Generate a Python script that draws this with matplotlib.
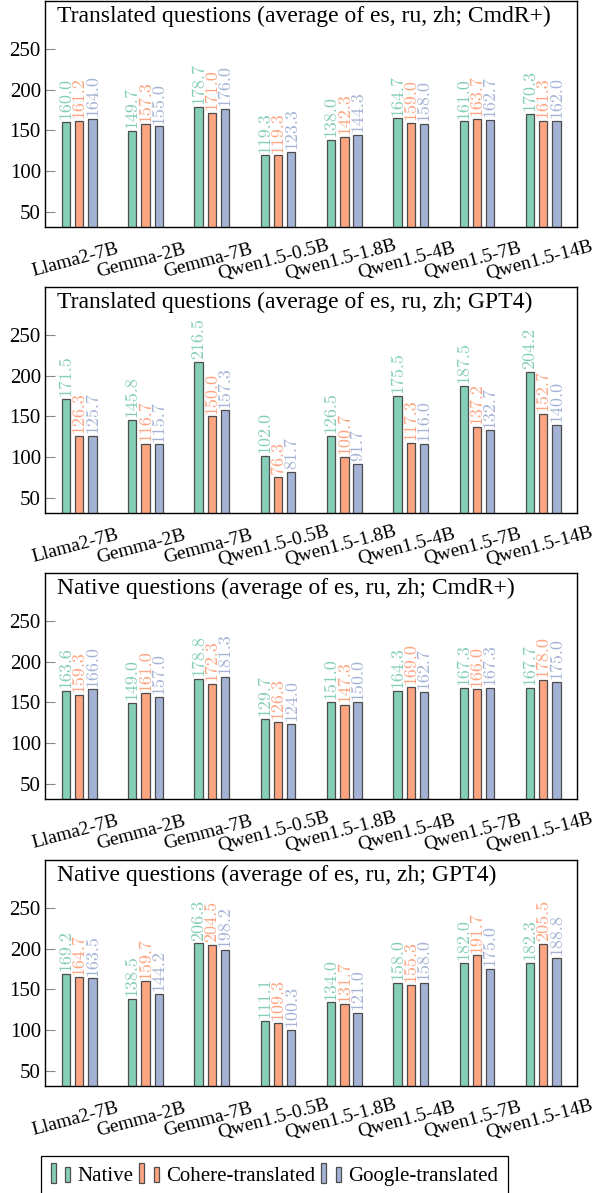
"""Four bar panels: length of answers per model, native vs translated questions."""

import matplotlib

matplotlib.use("Agg")

import matplotlib.pyplot as plt  # noqa: E402
import matplotlib.transforms as mtransforms  # noqa: E402
import numpy as np  # noqa: E402
from matplotlib.legend_handler import HandlerBase  # noqa: E402
from matplotlib.patches import Rectangle  # noqa: E402

models = ["Llama2-7B", "Gemma-2B", "Gemma-7B", "Qwen1.5-0.5B",
          "Qwen1.5-1.8B", "Qwen1.5-4B", "Qwen1.5-7B", "Qwen1.5-14B"]
series = ["Native", "Cohere-translated", "Google-translated"]
titles = [
    "Translated questions (average of es, ru, zh; CmdR+)",
    "Translated questions (average of es, ru, zh; GPT4)",
    "Native questions (average of es, ru, zh; CmdR+)",
    "Native questions (average of es, ru, zh; GPT4)",
]

# translated questions, CmdR+
tr_cmdr_native = [160.0, 149.7, 178.7, 119.3, 138.0, 164.7, 161.0, 170.3]
tr_cmdr_cohere = [161.2, 157.3, 171.0, 119.3, 142.3, 159.0, 163.7, 161.3]
tr_cmdr_google = [164.0, 155.0, 176.0, 123.3, 144.3, 158.0, 162.7, 162.0]
# translated questions, GPT4
tr_gpt4_native = [171.5, 145.8, 216.5, 102.0, 126.5, 175.5, 187.5, 204.2]
tr_gpt4_cohere = [126.3, 116.7, 150.0, 76.3, 100.7, 117.3, 137.2, 152.7]
tr_gpt4_google = [125.7, 115.7, 157.3, 81.7, 91.7, 116.0, 132.7, 140.0]
# native questions, CmdR+
na_cmdr_native = [163.6, 149.0, 178.8, 129.7, 151.0, 164.3, 167.3, 167.7]
na_cmdr_cohere = [159.3, 161.0, 172.3, 126.3, 147.3, 169.0, 166.0, 178.0]
na_cmdr_google = [166.0, 157.0, 181.3, 124.0, 150.0, 162.7, 167.3, 175.0]
# native questions, GPT4
na_gpt4_native = [169.2, 138.5, 206.3, 111.1, 134.0, 158.0, 182.0, 182.3]
na_gpt4_cohere = [164.7, 159.7, 204.5, 109.3, 131.7, 155.3, 191.7, 205.5]
na_gpt4_google = [163.5, 144.2, 198.2, 100.3, 121.0, 158.0, 175.0, 188.8]

panels = [
    (tr_cmdr_native, tr_cmdr_cohere, tr_cmdr_google),
    (tr_gpt4_native, tr_gpt4_cohere, tr_gpt4_google),
    (na_cmdr_native, na_cmdr_cohere, na_cmdr_google),
    (na_gpt4_native, na_gpt4_cohere, na_gpt4_google),
]

# Set2 at 80% opacity over white
base = np.array([[102, 194, 165], [252, 141, 98], [141, 160, 203]]) / 255
colors = [tuple(0.8 * c + 0.2) for c in base]
edge = "#4d4d4d"

plt.rcParams["font.family"] = ["Liberation Serif", "DejaVu Serif"]

W, H = 593, 1193
fig = plt.figure(figsize=(W / 100, H / 100), dpi=100)

# axes boxes in pixels: (top, bottom)
boxes = [(1, 227), (287, 513), (573, 799), (860, 1086)]
left_px, right_px = 45, 577

x = np.arange(len(models))
bw, off = 0.125, 0.2
shift = mtransforms.ScaledTranslation(-4 / 100, 0, fig.dpi_scale_trans)

for (top, bot), title, vals in zip(boxes, titles, panels):
    ax = fig.add_axes([left_px / W, 1 - bot / H, (right_px - left_px) / W, (bot - top) / H])
    for i, (v, c) in enumerate(zip(vals, colors)):
        bars = ax.bar(x + (i - 1) * off, v, bw, color=c, edgecolor=edge, linewidth=0.9)
        for b, val in zip(bars, v):
            ax.annotate(f"{val:.1f}", (b.get_x() + b.get_width() / 2, val),
                        xytext=(0, 2), textcoords="offset points",
                        rotation=90, ha="center", va="bottom",
                        fontsize=13, fontfamily="cmr10", color=c)
    ax.set_xlim(-0.517, 7.51)
    ax.set_ylim(31.6, 308.5)
    ax.set_yticks([50, 100, 150, 200, 250])
    ax.tick_params(axis="y", direction="in", length=7, color="#888888",
                   labelsize=15, pad=3)
    ax.set_xticks(x, models, rotation=15, ha="center", va="center",
                  rotation_mode="anchor", fontsize=14)
    ax.tick_params(axis="x", length=0, pad=24)
    for lab in ax.get_xticklabels():
        lab.set_transform(lab.get_transform() + shift)
    for s in ax.spines.values():
        s.set_linewidth(1.0)
    ax.text(0.0226, 0.978, title, transform=ax.transAxes, ha="left", va="top",
            fontsize=17)


class TwoBars(HandlerBase):
    def create_artists(self, legend, orig, xdescent, ydescent, width, height,
                       fontsize, trans):
        c = orig.get_facecolor()
        w = width * 0.26
        r1 = Rectangle((-xdescent, -ydescent - 0.1 * height), w, 1.25 * height,
                       facecolor=c, edgecolor=edge, linewidth=0.9, transform=trans)
        r2 = Rectangle((-xdescent + width - w, -ydescent), w, 0.95 * height,
                       facecolor=c, edgecolor=edge, linewidth=0.9, transform=trans)
        return [r1, r2]


handles = [Rectangle((0, 0), 1, 1, facecolor=c) for c in colors]
leg = fig.legend(handles, series, handler_map={Rectangle: TwoBars()},
                 loc="lower center", bbox_to_anchor=(0.463, -0.002), ncol=3,
                 fontsize=15, frameon=True, fancybox=False, edgecolor="black",
                 framealpha=1, handlelength=0.92, handleheight=0.8,
                 handletextpad=0.38, columnspacing=0.28, borderpad=0.45,
                 borderaxespad=0.0)
leg.get_frame().set_linewidth(0.9)

fig.savefig("out.png", dpi=100)
